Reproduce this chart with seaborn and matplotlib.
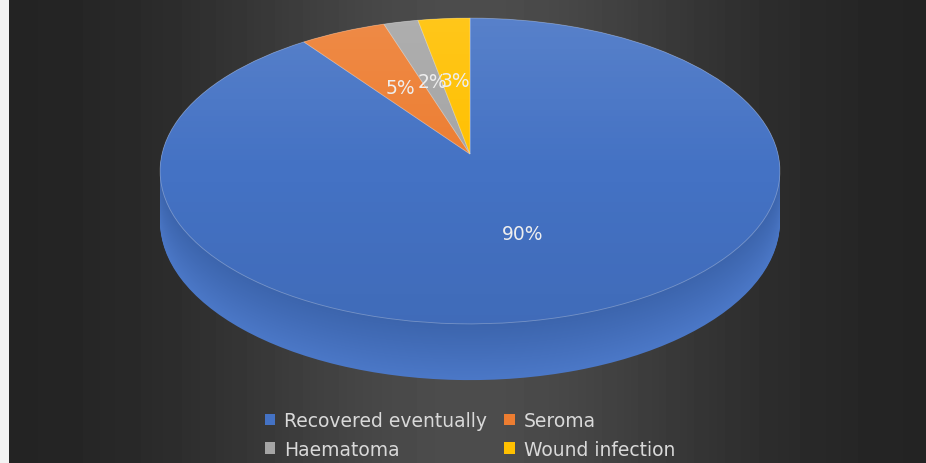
import numpy as np
import matplotlib
matplotlib.use("Agg")
import matplotlib.pyplot as plt
import matplotlib.patches as mpatches
import matplotlib.transforms as mtransforms
from matplotlib.colors import to_rgb
import seaborn as sns

# data
categories = ["Recovered eventually", "Seroma", "Haematoma", "Wound infection"]
shares = [90, 5, 2, 3]
colors = ["#4472C4", "#ED7D31", "#A5A5A5", "#FFC000"]

# layout of the tilted disc (pixels, y up)
W, H = 926, 464
CX, CY = 470, 309      # apex of the slices
RX, RY = 308, 151
PERSP = 0.111          # far side smaller than near side
DEPTH = 50

sns.set_style("white")
plt.rcParams["font.family"] = ["DejaVu Sans", "Noto Sans"]


class Tilt(mtransforms.Transform):
    """unit disc -> tilted disc seen in perspective, z in [-1, 0] is the thickness"""
    input_dims = 2
    output_dims = 2
    is_separable = False
    has_inverse = False

    def __init__(self, z=0.0):
        super().__init__()
        self.z = z

    def transform_non_affine(self, values):
        values = np.asarray(values, dtype=float)
        u, v = values[:, 0], values[:, 1]
        w = 1 + PERSP * v
        x = CX + RX * u / w
        y = CY + (RY * v + DEPTH * self.z) / w
        return np.column_stack([x, y])


fig = plt.figure(figsize=(W / 100, H / 100), dpi=100)
ax = fig.add_axes([0, 0, 1, 1])

# dark background with a soft light band in the middle
xx = np.arange(W)
band = np.exp(-((xx - CX) / 260.0) ** 2)
shade = 0.13 + 0.17 * band
bg = np.tile(shade, (H, 1))
ax.imshow(bg, cmap="gray", vmin=0, vmax=1, extent=(0, W, 0, H), zorder=0, aspect="auto")

# side of the disc: stacked layers
n_layers = 60
for i, z in enumerate(np.linspace(-1, 0, n_layers)):
    f = i / (n_layers - 1)          # 0 = bottom edge, 1 = just under the top
    layer_cols = []
    for c in colors:
        base = np.array(to_rgb(c))
        low = np.clip(base * 0.97 + 0.035, 0, 1)
        high = base * 0.88
        layer_cols.append(tuple(low * (1 - f) + high * f))
    wl, _ = ax.pie(shares, colors=layer_cols, startangle=90, counterclock=False,
                   wedgeprops=dict(linewidth=0))
    for p in wl:
        p.set_transform(Tilt(z) + ax.transData)
        p.set_zorder(1)

# top face
top = Tilt(0.0)
wedges, texts, autotexts = ax.pie(
    shares, colors=colors, startangle=90, counterclock=False,
    autopct=lambda p: f"{p:.0f}%", pctdistance=0.52,
    textprops=dict(color="#eeeeee", fontsize=13.5),
    wedgeprops=dict(linewidth=0.6, edgecolor=(1, 1, 1, 0.3)),
)
for p in wedges:
    p.set_transform(top + ax.transData)
    p.set_zorder(2)
for t in autotexts:
    t.set_transform(top + ax.transData)
    t.set_zorder(4)

# soft light from above on the top face
g = np.linspace(0, 1, 200)
grad = np.zeros((200, 2, 4))
grad[:, :, :3] = np.where(g < 0.5, 1.0, 0.0)[:, None, None]
alpha = np.where(g < 0.5, 0.11 * (1 - g / 0.5), 0.06 * (g - 0.5) / 0.5)
grad[:, :, 3] = alpha[:, None]
disc = mpatches.Circle((0, 0), 1, transform=top + ax.transData)
im = ax.imshow(grad, extent=(CX - 320, CX + 320, CY - 175, CY + 140),
               zorder=3, aspect="auto", interpolation="bilinear")
im.set_clip_path(disc)

ax.set_aspect("auto")
ax.set_xlim(0, W)
ax.set_ylim(0, H)
ax.axis("off")

# legend, filled row by row
order = [0, 2, 1, 3]
handles = [mpatches.Patch(facecolor=colors[i], edgecolor="none") for i in order]
fig.legend(handles, [categories[i] for i in order], loc="center",
           bbox_to_anchor=(470 / W, 1 - 436 / H), ncol=2, frameon=False,
           fontsize=13.5, labelcolor="#d9d9d9", handlelength=0.55,
           handleheight=0.55, handletextpad=0.5, columnspacing=0.9,
           labelspacing=0.5)

# light strip on the left edge
fig.add_artist(mpatches.Rectangle((0, 0), 9 / W, 1, transform=fig.transFigure,
                                  facecolor="#f2f2f2", edgecolor="none", zorder=10))

fig.savefig("out.png", dpi=100)
